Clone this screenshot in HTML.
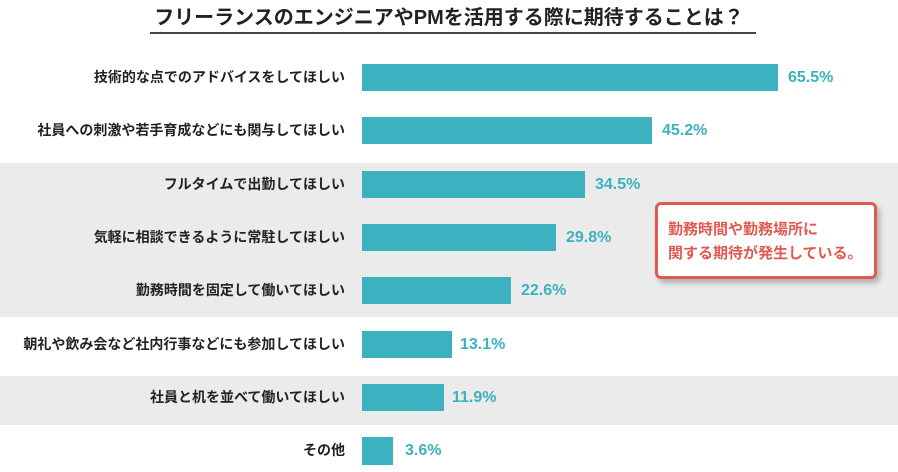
<!DOCTYPE html>
<html><head><meta charset="utf-8"><style>
body{margin:0;width:898px;height:472px;background:#fff;position:relative;overflow:hidden;font-family:"Liberation Sans","Noto Sans CJK JP",sans-serif;font-weight:bold;color:#222}
.band{position:absolute;left:0;width:898px;background:#ebebeb}
.bar{position:absolute;left:362px;height:27px;background:#3cb1c0}
.lab{position:absolute;right:553px;font-size:14px;line-height:27px;white-space:nowrap}
.val{position:absolute;font-size:16px;line-height:27px;color:#3cb1c0}
.title{position:absolute;left:0;width:898px;top:4px;text-align:center;font-size:20px;line-height:28px}
.ul{position:absolute;left:150px;width:606px;top:32px;height:2px;background:#444}
.box{position:absolute;left:655px;top:202px;width:216px;height:71px;border:3px solid #e05a50;border-radius:6px;background:#fff;box-shadow:3px 4px 6px rgba(0,0,0,.25);color:#e05a50;font-size:15px;line-height:24px;padding:0 0 0 10px;box-sizing:border-box;width:222px;height:77px;padding-top:13px}
</style></head><body>
<div class="title">フリーランスのエンジニアやPMを活用する際に期待することは？</div>
<div class="ul"></div>
<div class="band" style="top:163px;height:154px"></div>
<div class="band" style="top:376px;height:49px"></div>

<div class="lab" style="top:64px">技術的な点でのアドバイスをしてほしい</div>
<div class="bar" style="top:64px;width:416px"></div><div class="val" style="top:64px;left:788px">65.5%</div>

<div class="lab" style="top:117px">社員への刺激や若手育成などにも関与してほしい</div>
<div class="bar" style="top:117px;width:290px"></div><div class="val" style="top:117px;left:662px">45.2%</div>

<div class="lab" style="top:171px">フルタイムで出勤してほしい</div>
<div class="bar" style="top:171px;width:223px"></div><div class="val" style="top:171px;left:595px">34.5%</div>

<div class="lab" style="top:224px">気軽に相談できるように常駐してほしい</div>
<div class="bar" style="top:224px;width:194px"></div><div class="val" style="top:224px;left:566px">29.8%</div>

<div class="lab" style="top:277px">勤務時間を固定して働いてほしい</div>
<div class="bar" style="top:277px;width:149px"></div><div class="val" style="top:277px;left:521px">22.6%</div>

<div class="lab" style="top:331px">朝礼や飲み会など社内行事などにも参加してほしい</div>
<div class="bar" style="top:331px;width:90px"></div><div class="val" style="top:331px;left:460px">13.1%</div>

<div class="lab" style="top:384px">社員と机を並べて働いてほしい</div>
<div class="bar" style="top:384px;width:82px"></div><div class="val" style="top:384px;left:452px">11.9%</div>

<div class="lab" style="top:437px">その他</div>
<div class="bar" style="top:437px;width:31px;height:28px"></div><div class="val" style="top:437px;left:405px">3.6%</div>

<div class="box">勤務時間や勤務場所に<br>関する期待が発生している。</div>
</body></html>
